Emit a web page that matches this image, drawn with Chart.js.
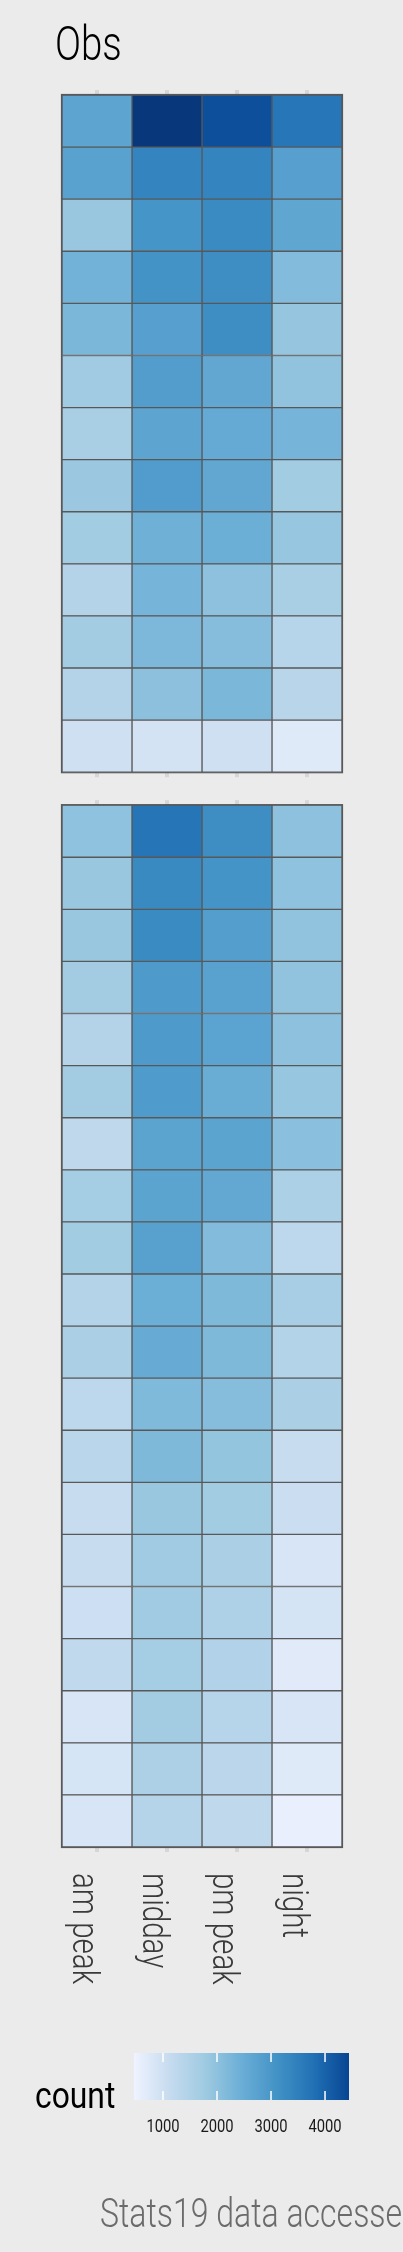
<!DOCTYPE html>
<html>
<head>
<meta charset="utf-8">
<title>Obs heatmap</title>
<script src="https://cdn.jsdelivr.net/npm/chart.js@4.4.0/dist/chart.umd.min.js"></script>
<style>
  html, body { margin: 0; padding: 0; background: #ebebeb; }
  canvas { display: block; }
</style>
</head>
<body>
<canvas id="heat" width="403" height="2252"></canvas>
<script>
// ===== Data =====
const periods = ["am peak", "midday", "pm peak", "night"];

// top panel, rows top -> bottom
const topAmPeak = [2680, 2750, 1850, 2350, 2250, 1750, 1600, 1830, 1720, 1430, 1700, 1430, 1000];
const topMidday = [4900, 3400, 3050, 3100, 2800, 2850, 2680, 2870, 2400, 2300, 2220, 2030, 900];
const topPmPeak = [4300, 3400, 3250, 3200, 3200, 2620, 2550, 2620, 2450, 2000, 2100, 2250, 980];
const topNight  = [3650, 2800, 2650, 2150, 1900, 1950, 2300, 1720, 1880, 1600, 1380, 1360, 720];

// bottom panel, rows top -> bottom
const bottomAmPeak = [1980, 1850, 1850, 1700, 1420, 1700, 1250, 1680, 1720, 1430, 1580, 1280, 1330, 1100, 1110, 1020, 1220, 840, 860, 850];
const bottomMidday = [3700, 3270, 3250, 2920, 2920, 2900, 2700, 2700, 2760, 2450, 2520, 2180, 2190, 1860, 1740, 1740, 1670, 1700, 1540, 1400];
const bottomPmPeak = [3200, 3080, 2830, 2750, 2720, 2480, 2700, 2600, 2150, 2200, 2200, 2100, 1920, 1720, 1580, 1520, 1470, 1380, 1310, 1250];
const bottomNight  = [2000, 1980, 1960, 1950, 2000, 1880, 2050, 1550, 1280, 1640, 1450, 1580, 1090, 1060, 850, 880, 700, 850, 720, 560];

const legendTicks = [1000, 2000, 3000, 4000];
const countLimits = [463, 4444];

// ===== Colour scale (Blues) =====
const blues = ["#eff3ff", "#c6dbef", "#9ecae1", "#6baed6", "#4292c6", "#2171b5", "#084594"];
const stops = blues.map((c, i) => [countLimits[0] + i * (countLimits[1] - countLimits[0]) / (blues.length - 1), c]);
stops.push([5200, "#08306b"]);

function hexToRgb(h) {
    return [1, 3, 5].map(i => parseInt(h.substr(i, 2), 16));
}

function fillFor(v) {
    if (v <= stops[0][0]) return stops[0][1];
    for (let i = 1; i < stops.length; i++) {
        if (v <= stops[i][0]) {
            const t = (v - stops[i - 1][0]) / (stops[i][0] - stops[i - 1][0]);
            const a = hexToRgb(stops[i - 1][1]);
            const b = hexToRgb(stops[i][1]);
            const c = a.map((x, k) => Math.round(x + (b[k] - x) * t));
            return `rgb(${c[0]},${c[1]},${c[2]})`;
        }
    }
    return stops[stops.length - 1][1];
}

// ===== Build datasets =====
const GAP = 0.633; // space between the two panels, in rows
const topRows = topAmPeak.length;
const bottomRows = bottomAmPeak.length;
const bottomStart = topRows + GAP;
const EDGE = "#585858";

const datasets = [];
function addPanel(columns, start) {
    columns.forEach((vals, c) => {
        datasets.push({
            data: vals.map((v, i) => ({ x: periods[c], y: [start + i, start + i + 1], count: v })),
            backgroundColor: vals.map(fillFor),
            borderColor: EDGE,
            borderWidth: 1,
            borderSkipped: false,
            barPercentage: 1,
            categoryPercentage: 1,
            grouped: false
        });
    });
}
addPanel([topAmPeak, topMidday, topPmPeak, topNight], 0);
addPanel([bottomAmPeak, bottomMidday, bottomPmPeak, bottomNight], bottomStart);

// ===== Text helper =====
function drawText(ctx, text, x, y, o) {
    ctx.save();
    ctx.translate(x, y);
    if (o.rotate) ctx.rotate(o.rotate);
    ctx.scale(o.squeeze || 1, 1);
    ctx.font = `${o.weight || 400} ${o.size}px Roboto`;
    ctx.fillStyle = o.color || "#000";
    ctx.textAlign = o.align || "left";
    ctx.textBaseline = "alphabetic";
    ctx.fillText(text, 0, 0);
    ctx.restore();
}

// ===== Decorations plugin =====
const decorations = {
    id: "decorations",
    beforeDraw(chart) {
        const ctx = chart.ctx;
        const xs = chart.scales.x, ys = chart.scales.y;
        ctx.save();
        ctx.fillStyle = "#ebebeb";
        ctx.fillRect(0, 0, chart.width, chart.height);

        // little grid stubs sticking out of the panels
        const panels = [[0, topRows], [bottomStart, bottomStart + bottomRows]];
        ctx.fillStyle = "#d6d6d6";
        panels.forEach(([a, b]) => {
            const top = ys.getPixelForValue(a), bottom = ys.getPixelForValue(b);
            periods.forEach((p, i) => {
                const x = xs.getPixelForValue(i);
                ctx.fillRect(x - 2, top - 5, 4, 5);
                ctx.fillRect(x - 2, bottom, 4, 5);
            });
        });
        ctx.restore();
    },
    afterDatasetsDraw(chart) {
        const ctx = chart.ctx;
        const xs = chart.scales.x, ys = chart.scales.y;
        const area = chart.chartArea;

        // panel outlines
        ctx.save();
        ctx.strokeStyle = EDGE;
        ctx.lineWidth = 1.2;
        [[0, topRows], [bottomStart, bottomStart + bottomRows]].forEach(([a, b]) => {
            const top = ys.getPixelForValue(a), bottom = ys.getPixelForValue(b);
            ctx.strokeRect(area.left - 0.5, top - 0.5, area.right - area.left + 1, bottom - top + 1);
        });
        ctx.restore();

        // title
        drawText(ctx, "Obs", 55, 60, { size: 48, weight: 300, squeeze: 0.8, color: "#000" });

        // x labels, rotated to read downward
        periods.forEach((p, i) => {
            const x = xs.getPixelForValue(i);
            drawText(ctx, p, x - 24, area.bottom + 26, { size: 36, weight: 300, squeeze: 0.82, color: "#3a3a3a", rotate: Math.PI / 2 });
        });

        // colour legend
        const lx0 = 134, lx1 = 349, ly0 = 2053, ly1 = 2100;
        const toX = v => lx0 + (v - countLimits[0]) / (countLimits[1] - countLimits[0]) * (lx1 - lx0);
        for (let px = lx0; px < lx1; px++) {
            const v = countLimits[0] + (px + 0.5 - lx0) / (lx1 - lx0) * (countLimits[1] - countLimits[0]);
            ctx.fillStyle = fillFor(v);
            ctx.fillRect(px, ly0, 1, ly1 - ly0);
        }
        ctx.fillStyle = "#ffffff";
        legendTicks.forEach(t => {
            const x = toX(t);
            ctx.fillRect(x - 0.75, ly0, 1.5, 9);
            ctx.fillRect(x - 0.75, ly1 - 9, 1.5, 9);
            drawText(ctx, String(t), x, 2132, { size: 18, weight: 400, squeeze: 0.82, color: "#1a1a1a", align: "center" });
        });
        drawText(ctx, "count", 35, 2108, { size: 37, weight: 400, squeeze: 0.86, color: "#000" });

        // caption
        drawText(ctx, "Stats19 data accessed via the stats19 R package", 100, 2227, { size: 40, weight: 300, squeeze: 0.8, color: "#6b6b6b" });
    }
};

// ===== Chart =====
new Chart(document.getElementById("heat").getContext("2d"), {
    type: "bar",
    data: { labels: periods, datasets },
    options: {
        responsive: false,
        devicePixelRatio: 1,
        animation: false,
        events: [],
        layout: { padding: { left: 62, right: 61, top: 95, bottom: 405 } },
        plugins: { legend: { display: false }, tooltip: { enabled: false }, title: { display: false } },
        scales: {
            x: { type: "category", labels: periods, offset: true, display: false },
            y: { type: "linear", min: 0, max: bottomStart + bottomRows, reverse: true, display: false }
        }
    },
    plugins: [decorations]
});
</script>
</body>
</html>
